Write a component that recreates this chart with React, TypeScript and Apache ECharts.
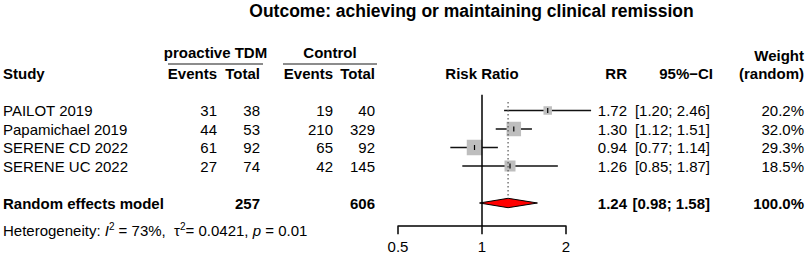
import React, { useEffect, useRef } from "react";
import * as echarts from "echarts";

// ---------- data ----------
const titleText = "Outcome: achieving or maintaining clinical remission";
const studies = ["PAILOT 2019", "Papamichael 2019", "SERENE CD 2022", "SERENE UC 2022"];
const eventsTDM = [31, 44, 61, 27];
const totalTDM = [38, 53, 92, 74];
const eventsControl = [19, 210, 65, 42];
const totalControl = [40, 329, 92, 145];
const riskRatio = [1.72, 1.3, 0.94, 1.26];
const ciLower = [1.2, 1.12, 0.77, 0.85];
const ciUpper = [2.46, 1.51, 1.14, 1.87];
const weightRandom = [20.2, 32.0, 29.3, 18.5];

const pooledLabel = "Random effects model";
const pooledTotalTDM = 257;
const pooledTotalControl = 606;
const pooledRR = 1.24;
const pooledLower = 0.98;
const pooledUpper = 1.58;
const pooledWeight = 100.0;

const hetI2 = 73;
const hetTau2 = 0.0421;
const hetP = 0.01;

const axisTicks = [0.5, 1, 2];
const nullValue = 1;

// ---------- layout / style ----------
const W = 809;
const H = 255;
const FONT = '"Liberation Sans", Arial, Helvetica, sans-serif';
const ROW0 = 110.5;
const ROW_STEP = 18.5;
const PLOT_LEFT = 398;
const PLOT_WIDTH = 168;
const PLOT_YMIN = -0.85;
const PLOT_YMAX = 6.25;
const TEXT_YMIN = -5.5;
const TEXT_YMAX = 7.5;
const POOLED_ROW = 5;
const HET_ROW = 6.49;
const HEADER_ROW = -2;
const GROUP_ROW = -3.13;
const WEIGHT_ROW = -2.95;
const UNDERLINE_ROW = -2.51;
const TITLE_ROW = -5.4;
const DOTTED_TOP = -0.46;
const DIAMOND_HALF = 4.7;
const COL = {
  study: 3,
  evT: 217,
  totT: 260,
  evC: 333,
  totC: 375,
  plot: 482,
  rr: 627,
  ci: 710,
  ciHead: 713,
  w: 804,
  title: 471.5,
};
const UNDERLINES = [
  [168, 263],
  [283, 377],
];
const squareSizes = [8.5, 14.5, 15.5, 11];
const SQUARE_COLOR = "#BEBEBE";

type TextItem = {
  x: number;
  row: number;
  text: string;
  align: "left" | "right" | "center";
  bold?: boolean;
  size?: number;
  rich?: boolean;
};

function buildTextItems(): TextItem[] {
  const items: TextItem[] = [];
  items.push({ x: COL.title, row: TITLE_ROW, text: titleText, align: "center", bold: true, size: 17.5 });
  items.push({ x: (UNDERLINES[0][0] + UNDERLINES[0][1]) / 2, row: GROUP_ROW, text: "proactive TDM", align: "center", bold: true });
  items.push({ x: (UNDERLINES[1][0] + UNDERLINES[1][1]) / 2, row: GROUP_ROW, text: "Control", align: "center", bold: true });
  items.push({ x: COL.w, row: WEIGHT_ROW, text: "Weight", align: "right", bold: true });
  items.push({ x: COL.study, row: HEADER_ROW, text: "Study", align: "left", bold: true });
  items.push({ x: COL.evT, row: HEADER_ROW, text: "Events", align: "right", bold: true });
  items.push({ x: COL.totT, row: HEADER_ROW, text: "Total", align: "right", bold: true });
  items.push({ x: COL.evC, row: HEADER_ROW, text: "Events", align: "right", bold: true });
  items.push({ x: COL.totC, row: HEADER_ROW, text: "Total", align: "right", bold: true });
  items.push({ x: COL.plot, row: HEADER_ROW, text: "Risk Ratio", align: "center", bold: true });
  items.push({ x: COL.rr, row: HEADER_ROW, text: "RR", align: "right", bold: true });
  items.push({ x: COL.ciHead, row: HEADER_ROW, text: "95%\u2212CI", align: "right", bold: true });
  items.push({ x: COL.w, row: HEADER_ROW, text: "(random)", align: "right", bold: true });
  studies.forEach((s, i) => {
    items.push({ x: COL.study, row: i, text: s, align: "left" });
    items.push({ x: COL.evT, row: i, text: String(eventsTDM[i]), align: "right" });
    items.push({ x: COL.totT, row: i, text: String(totalTDM[i]), align: "right" });
    items.push({ x: COL.evC, row: i, text: String(eventsControl[i]), align: "right" });
    items.push({ x: COL.totC, row: i, text: String(totalControl[i]), align: "right" });
    items.push({ x: COL.rr, row: i, text: riskRatio[i].toFixed(2), align: "right" });
    items.push({ x: COL.ci, row: i, text: `[${ciLower[i].toFixed(2)}; ${ciUpper[i].toFixed(2)}]`, align: "right" });
    items.push({ x: COL.w, row: i, text: weightRandom[i].toFixed(1) + "%", align: "right" });
  });
  items.push({ x: COL.study, row: POOLED_ROW, text: pooledLabel, align: "left", bold: true });
  items.push({ x: COL.totT, row: POOLED_ROW, text: String(pooledTotalTDM), align: "right", bold: true });
  items.push({ x: COL.totC, row: POOLED_ROW, text: String(pooledTotalControl), align: "right", bold: true });
  items.push({ x: COL.rr, row: POOLED_ROW, text: pooledRR.toFixed(2), align: "right", bold: true });
  items.push({ x: COL.ci, row: POOLED_ROW, text: `[${pooledLower.toFixed(2)}; ${pooledUpper.toFixed(2)}]`, align: "right", bold: true });
  items.push({ x: COL.w, row: POOLED_ROW, text: pooledWeight.toFixed(1) + "%", align: "right", bold: true });
  items.push({
    x: COL.study,
    row: HET_ROW,
    align: "left",
    rich: true,
    text: `{n|Heterogeneity: }{it|I}{sup|2}{n| = ${hetI2}%,  \u03c4}{sup|2}{n|= ${hetTau2}, }{it|p}{n| = ${hetP.toFixed(2)}}`,
  });
  return items;
}

export default function App() {
  const ref = useRef<HTMLDivElement>(null);
  useEffect(() => {
    if (!ref.current) return;
    const chart = echarts.init(ref.current, undefined, { renderer: "svg" });
    const textItems = buildTextItems();
    const plotTop = ROW0 + PLOT_YMIN * ROW_STEP;
    const plotHeight = (PLOT_YMAX - PLOT_YMIN) * ROW_STEP;
    const textTop = ROW0 + TEXT_YMIN * ROW_STEP;
    const textHeight = (TEXT_YMAX - TEXT_YMIN) * ROW_STEP;

    const option: any = {
      animation: false,
      backgroundColor: "#ffffff",
      textStyle: { fontFamily: FONT },
      grid: [
        { left: PLOT_LEFT, top: plotTop, width: PLOT_WIDTH, height: plotHeight, containLabel: false, outerBoundsMode: "none" },
        { left: 0, top: textTop, width: W, height: textHeight, containLabel: false, outerBoundsMode: "none" },
      ],
      xAxis: [
        {
          type: "log",
          logBase: 2,
          gridIndex: 0,
          min: axisTicks[0],
          max: axisTicks[axisTicks.length - 1],
          splitNumber: axisTicks.length - 1,
          axisLine: { show: true, onZero: false, lineStyle: { color: "#000", width: 1.5 } },
          axisTick: { show: true, inside: false, length: 8, lineStyle: { color: "#000", width: 1.5 } },
          minorTick: { show: false },
          splitLine: { show: false },
          axisLabel: {
            show: true,
            color: "#000",
            fontSize: 15,
            fontFamily: FONT,
            margin: 13,
            showMinLabel: true,
            showMaxLabel: true,
            formatter: (v: number) => String(+Number(v).toFixed(2)),
          },
        },
        { type: "value", gridIndex: 1, min: 0, max: W, show: false },
      ],
      yAxis: [
        { type: "value", gridIndex: 0, min: PLOT_YMIN, max: PLOT_YMAX, inverse: true, show: false },
        { type: "value", gridIndex: 1, min: TEXT_YMIN, max: TEXT_YMAX, inverse: true, show: false },
      ],
      series: [
        // null line (RR = 1)
        {
          type: "line",
          xAxisIndex: 0,
          yAxisIndex: 0,
          data: [
            [nullValue, PLOT_YMIN],
            [nullValue, PLOT_YMAX],
          ],
          symbol: "none",
          lineStyle: { color: "#000", width: 1.5 },
          silent: true,
        },
        // pooled estimate dotted line
        {
          type: "line",
          xAxisIndex: 0,
          yAxisIndex: 0,
          data: [
            [pooledRR, DOTTED_TOP],
            [pooledRR, POOLED_ROW - 0.26],
          ],
          symbol: "none",
          lineStyle: { color: "#555", width: 1.2, type: [1.5, 2.5] },
          silent: true,
        },
        // study CIs and squares
        {
          type: "custom",
          xAxisIndex: 0,
          yAxisIndex: 0,
          clip: false,
          silent: true,
          data: riskRatio.map((v, i) => [v, i, ciLower[i], ciUpper[i]]),
          renderItem: (params: any, api: any) => {
            const i = params.dataIndex;
            const row = api.value(1);
            const c = api.coord([api.value(0), row]);
            const l = api.coord([api.value(2), row]);
            const h = api.coord([api.value(3), row]);
            const s = squareSizes[i];
            return {
              type: "group",
              children: [
                { type: "line", shape: { x1: l[0], y1: c[1], x2: h[0], y2: c[1] }, style: { stroke: "#111", lineWidth: 1.5 } },
                { type: "rect", shape: { x: c[0] - s / 2, y: c[1] - s / 2, width: s, height: s }, style: { fill: SQUARE_COLOR } },
                { type: "line", shape: { x1: c[0], y1: c[1] - 2.5, x2: c[0], y2: c[1] + 2.5 }, style: { stroke: "#000", lineWidth: 1.2 } },
              ],
            };
          },
        },
        // pooled diamond
        {
          type: "custom",
          xAxisIndex: 0,
          yAxisIndex: 0,
          clip: false,
          silent: true,
          data: [[pooledRR, POOLED_ROW, pooledLower, pooledUpper]],
          renderItem: (params: any, api: any) => {
            const row = api.value(1);
            const c = api.coord([api.value(0), row]);
            const l = api.coord([api.value(2), row]);
            const h = api.coord([api.value(3), row]);
            return {
              type: "polygon",
              shape: {
                points: [
                  [l[0], c[1]],
                  [c[0], c[1] - DIAMOND_HALF],
                  [h[0], c[1]],
                  [c[0], c[1] + DIAMOND_HALF],
                ],
              },
              style: { fill: "#FF0000", stroke: "#000", lineWidth: 1 },
            };
          },
        },
        // group underlines
        ...UNDERLINES.map((u) => ({
          type: "line",
          xAxisIndex: 1,
          yAxisIndex: 1,
          data: [
            [u[0], UNDERLINE_ROW],
            [u[1], UNDERLINE_ROW],
          ],
          symbol: "none",
          lineStyle: { color: "#666", width: 1.5 },
          silent: true,
        })),
        // table texts
        {
          type: "custom",
          xAxisIndex: 1,
          yAxisIndex: 1,
          clip: false,
          silent: true,
          data: textItems.map((t) => [t.x, t.row]),
          renderItem: (params: any, api: any) => {
            const it = textItems[params.dataIndex];
            const p = api.coord([api.value(0), api.value(1)]);
            const style: any = {
              text: it.text,
              fill: "#000",
              align: it.align,
              verticalAlign: "middle",
              fontFamily: FONT,
              fontSize: it.size || 15,
              fontWeight: it.bold ? "bold" : "normal",
            };
            if (it.rich) {
              style.rich = {
                n: { fontSize: 15, fontFamily: FONT, lineHeight: 18, fill: "#000" },
                it: { fontSize: 15, fontFamily: FONT, fontStyle: "italic", lineHeight: 18, fill: "#000" },
                sup: { fontSize: 10, fontFamily: FONT, lineHeight: 10, verticalAlign: "top", fill: "#000" },
              };
            }
            return { type: "text", x: p[0], y: p[1], style };
          },
        },
      ],
    };
    chart.setOption(option);
    return () => chart.dispose();
  }, []);
  return (
    <div
      ref={ref}
      style={{ position: "fixed", left: 0, top: 0, width: W, height: H, background: "#fff" }}
    />
  );
}
